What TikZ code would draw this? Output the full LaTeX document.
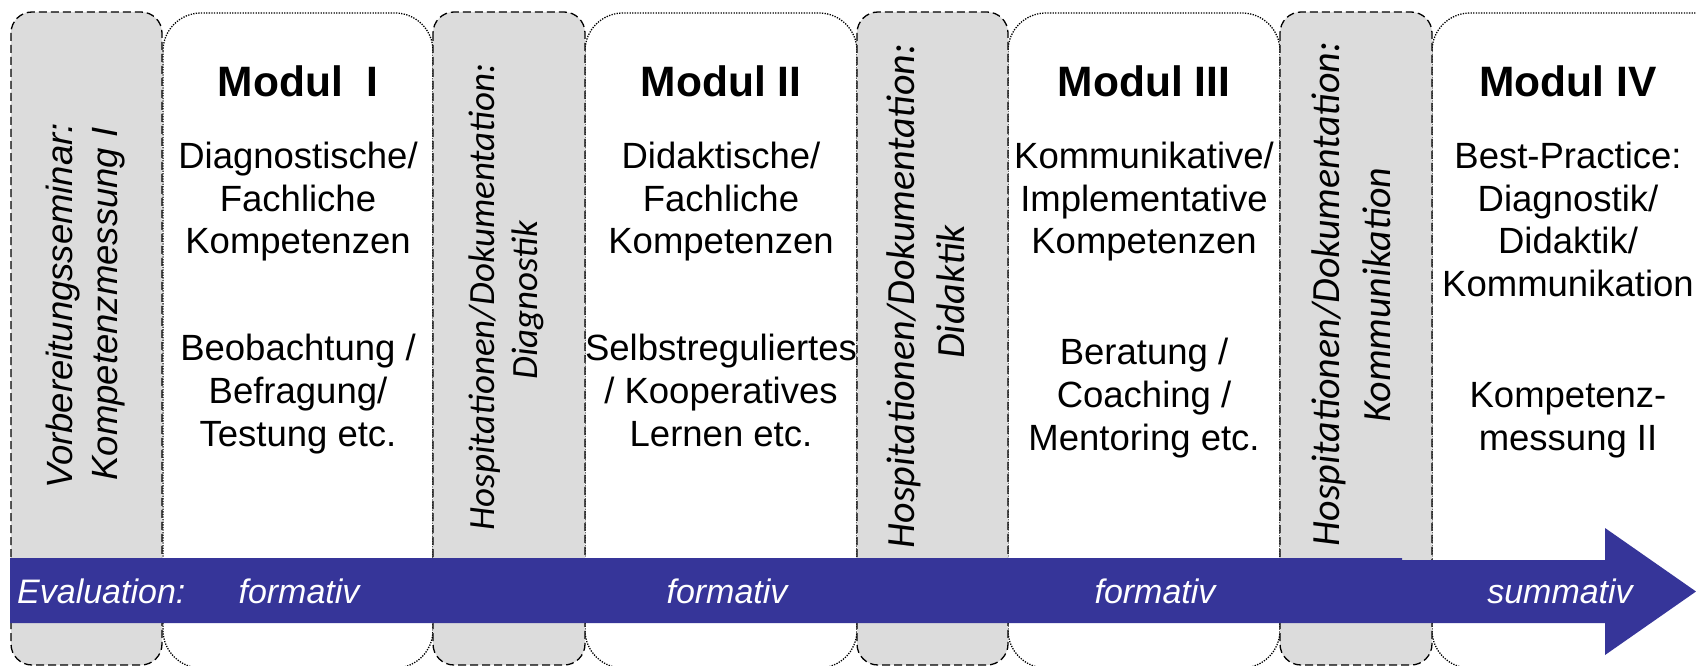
\documentclass[tikz,border=0pt]{standalone}
\usepackage{fontspec}
\setmainfont{Liberation Sans}
\newfontfamily\carfont{Carlito}
\definecolor{graybox}{RGB}{220,220,220}
\definecolor{evalblue}{RGB}{54,53,153}
\begin{document}
\begin{tikzpicture}[x=1pt,y=-1pt,
  grayboxs/.style={draw=black, fill=graybox, line width=1.3pt, dash pattern=on 8pt off 4pt, rounded corners=21pt},
  modbox/.style={draw=black, fill=white, line width=1.3pt, dash pattern=on 1.3pt off 1.3pt, rounded corners=38pt},
  titletxt/.style={font=\fontsize{42.5}{50}\selectfont\bfseries, anchor=base, inner sep=0pt},
  body/.style={font=\fontsize{36.5}{43}\selectfont, anchor=base, inner sep=0pt},
  vert/.style={font=\fontsize{36.5}{43}\selectfont\itshape, anchor=base, inner sep=0pt, rotate=90},
  vertc/.style={font=\fontsize{37}{43}\selectfont\carfont\itshape, anchor=base, inner sep=0pt, rotate=90},
  vertcl/.style={font=\fontsize{40}{46}\selectfont\carfont\itshape, anchor=base, inner sep=0pt, rotate=90},
  evaltxt/.style={font=\fontsize{34}{40}\selectfont\itshape, text=white, anchor=base, inner sep=0pt},
]
\useasboundingbox (0,0) rectangle (1696,666);
\clip (0,0) rectangle (1696,666);
% module boxes
\draw[modbox] (163,13) rectangle (433,668);
\draw[modbox] (585,13) rectangle (857,668);
\draw[modbox] (1008,13) rectangle (1280,668);
\draw[modbox] (1432,13) rectangle (1740,668);
% gray columns
\draw[grayboxs] (11,12) rectangle (162,665);
\draw[grayboxs] (433,12) rectangle (585,665);
\draw[grayboxs] (857,12) rectangle (1008,665);
\draw[grayboxs] (1280,12) rectangle (1432,665);
% arrow
\fill[evalblue] (10,558) -- (1402,558) -- (1402,560) -- (1605,560) -- (1605,528) -- (1696,591.5) -- (1605,655) -- (1605,623) -- (10,623) -- cycle;
% module I
\node[titletxt] (t1) at (298,97) {Modul\ \ I};
\node[body] (m1a) at (298,168) {Diagnostische/};
\node[body] (m1b) at (298,211) {Fachliche};
\node[body] (m1c) at (298,253) {Kompetenzen};
\node[body] (m1d) at (298,360) {Beobachtung /};
\node[body] (m1e) at (298,403) {Befragung/};
\node[body] (m1f) at (298,446) {Testung etc.};
% module II
\node[titletxt] (t2) at (721,97) {Modul II};
\node[body] (m2a) at (721,168) {Didaktische/};
\node[body] (m2b) at (721,211) {Fachliche};
\node[body] (m2c) at (721,253) {Kompetenzen};
\node[body] (m2d) at (721,360) {Selbstreguliertes};
\node[body] (m2e) at (721,403) {/ Kooperatives};
\node[body] (m2f) at (721,446) {Lernen etc.};
% module III
\node[titletxt] (t3) at (1144,97) {Modul III};
\node[body] (m3a) at (1144,168) {Kommunikative/};
\node[body] (m3b) at (1144,211) {Implementative};
\node[body] (m3c) at (1144,253) {Kompetenzen};
\node[body] (m3d) at (1144,364) {Beratung /};
\node[body] (m3e) at (1144,407) {Coaching /};
\node[body] (m3f) at (1144,450) {Mentoring etc.};
% module IV
\node[titletxt] (t4) at (1568,97) {Modul IV};
\node[body] (m4a) at (1568,168) {Best-Practice:};
\node[body] (m4b) at (1568,211) {Diagnostik/};
\node[body] (m4c) at (1568,253) {Didaktik/};
\node[body] (m4d) at (1568,296) {Kommunikation};
\node[body] (m4e) at (1568,407) {Kompetenz-};
\node[body] (m4f) at (1568,450) {messung II};
% vertical texts
\node[vert] (v1a) at (72,306) {Vorbereitungsseminar:};
\node[vert] (v1b) at (117,304) {Kompetenzmessung I};
\node[vertc] (v2a) at (494,297) {Hospitationen/Dokumentation:};
\node[vertc] (v2b) at (537,300) {Diagnostik};
\node[vertcl] (v3a) at (914,296) {Hospitationen/Dokumentation:};
\node[vertcl] (v3b) at (964,292) {Didaktik};
\node[vertcl] (v4a) at (1339,294) {Hospitationen/Dokumentation:};
\node[vertcl] (v4b) at (1390,295) {Kommunikation};
% evaluation labels
\node[evaltxt, anchor=base west] (e0) at (17,603) {Evaluation:};
\node[evaltxt] (e1) at (299,603) {formativ};
\node[evaltxt] (e2) at (727,603) {formativ};
\node[evaltxt] (e3) at (1155,603) {formativ};
\node[evaltxt] (e4) at (1560,603) {summativ};
\end{tikzpicture}
\end{document}
